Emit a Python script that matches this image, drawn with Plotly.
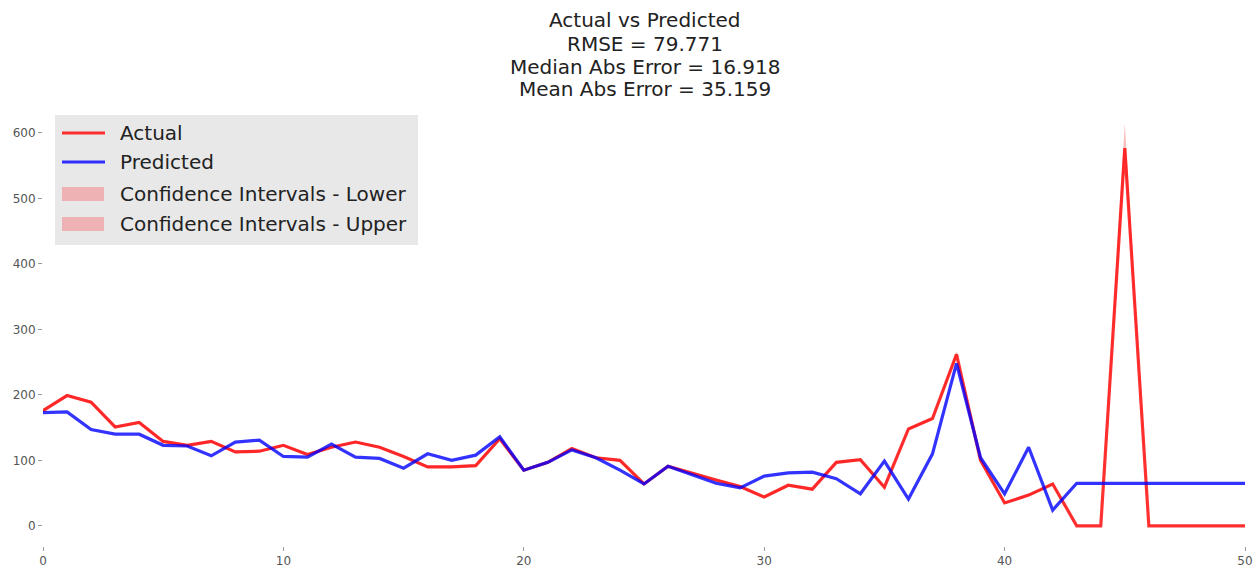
import plotly.graph_objects as go

# Time index of the evaluation window
steps = list(range(51))

# Observed values
actual = [176, 199, 189, 151, 158, 129, 123, 129, 113, 114,
          123, 109, 120, 128, 120, 106, 90, 90, 92, 133,
          85, 97, 118, 104, 100, 64, 91, 80, 70, 60,
          44, 62, 56, 97, 101, 59, 148, 164, 262, 100,
          35, 47, 64, 0, 0, 577, 0, 0, 0, 0, 0]

# Model predictions
predicted = [173, 174, 147, 140, 140, 123, 122, 107, 128, 131,
             106, 105, 125, 105, 103, 88, 110, 100, 108, 136,
             85, 97, 116, 104, 85, 64, 91, 78, 65, 58,
             76, 81, 82, 72, 49, 99, 41, 110, 248, 104,
             49, 120, 24, 65, 65, 65, 65, 65, 65, 65, 65]

# Confidence interval bounds around the observed series
ci_lower = [174, 197, 187, 149, 156, 127, 121, 127, 111, 112,
            121, 107, 118, 126, 118, 104, 88, 88, 90, 131,
            83, 95, 116, 102, 98, 62, 89, 78, 68, 58,
            42, 60, 54, 95, 99, 57, 146, 162, 258, 98,
            33, 45, 62, 0, 0, 560, 0, 0, 0, 0, 0]
ci_upper = [178, 201, 191, 153, 160, 131, 125, 131, 115, 116,
            125, 111, 122, 130, 122, 108, 92, 92, 94, 135,
            87, 99, 120, 106, 102, 66, 93, 82, 72, 62,
            46, 64, 58, 99, 103, 61, 150, 166, 266, 102,
            37, 49, 66, 1, 1, 615, 1, 1, 1, 1, 1]

title_lines = ["Actual vs Predicted", "RMSE = 79.771",
               "Median Abs Error = 16.918", "Mean Abs Error = 35.159"]
legend_labels = ["Actual", "Predicted",
                 "Confidence Intervals - Lower", "Confidence Intervals - Upper"]

RED = "rgba(255,0,0,0.8)"
BLUE = "rgba(0,0,255,0.8)"
PINK = "rgba(240,110,110,0.45)"
PATCH = "#eeb1b4"

W, H = 1256, 568
L, R, T, B = 43, 11, 103, 22
PW, PH = W - L - R, H - T - B


def px(xp):
    """Horizontal pixel -> paper coordinate."""
    return (xp - L) / PW


def py(yp):
    """Vertical pixel (from top) -> paper coordinate."""
    return (H - B - yp) / PH


fig = go.Figure()

# Lower band: fill from the actual series down to the lower bound
fig.add_trace(go.Scatter(x=steps, y=actual, mode="lines",
                         line=dict(width=0, color=RED),
                         showlegend=False, hoverinfo="skip"))
fig.add_trace(go.Scatter(x=steps, y=ci_lower, mode="lines", fill="tonexty",
                         fillcolor=PINK, line=dict(width=0),
                         name=legend_labels[2], showlegend=False))
# Upper band: fill from the actual series up to the upper bound
fig.add_trace(go.Scatter(x=steps, y=actual, mode="lines",
                         line=dict(width=0, color=RED),
                         showlegend=False, hoverinfo="skip"))
fig.add_trace(go.Scatter(x=steps, y=ci_upper, mode="lines", fill="tonexty",
                         fillcolor=PINK, line=dict(width=0),
                         name=legend_labels[3], showlegend=False))

fig.add_trace(go.Scatter(x=steps, y=actual, mode="lines", name=legend_labels[0],
                         line=dict(color=RED, width=3.2), showlegend=False))
fig.add_trace(go.Scatter(x=steps, y=predicted, mode="lines", name=legend_labels[1],
                         line=dict(color=BLUE, width=3.2), showlegend=False))

# Legend box drawn in paper space
shapes = [dict(type="rect", xref="paper", yref="paper",
               x0=px(55), x1=px(418), y0=py(245), y1=py(115),
               fillcolor="rgba(229,229,229,0.9)", line=dict(width=0), layer="above")]
annotations = []
row_y = [133, 162, 194, 224]
for i, (label, yc) in enumerate(zip(legend_labels, row_y)):
    if i == 0:
        shapes.append(dict(type="line", xref="paper", yref="paper",
                           x0=px(62), x1=px(105), y0=py(yc), y1=py(yc),
                           line=dict(color=RED, width=3.2), layer="above"))
    elif i == 1:
        shapes.append(dict(type="line", xref="paper", yref="paper",
                           x0=px(62), x1=px(105), y0=py(yc), y1=py(yc),
                           line=dict(color=BLUE, width=3.2), layer="above"))
    else:
        shapes.append(dict(type="rect", xref="paper", yref="paper",
                           x0=px(62), x1=px(104), y0=py(yc + 7), y1=py(yc - 7),
                           fillcolor=PATCH, line=dict(width=0), layer="above"))
    annotations.append(dict(text=label, xref="paper", yref="paper",
                            x=px(118), y=py(yc), xanchor="left", yanchor="middle",
                            showarrow=False,
                            font=dict(size=20, color="#222222")))

# Four-line title
for line, yc in zip(title_lines, [20, 44, 67, 89]):
    annotations.append(dict(text=line, xref="paper", yref="paper",
                            x=px(645), y=py(yc), xanchor="center", yanchor="middle",
                            showarrow=False,
                            font=dict(size=20, color="#222222")))

fig.update_layout(
    width=W, height=H,
    margin=dict(l=L, r=R, t=T, b=B),
    paper_bgcolor="white", plot_bgcolor="white",
    font=dict(family="DejaVu Sans", color="#222222"),
    shapes=shapes, annotations=annotations,
    showlegend=False,
)

fig.update_xaxes(range=[0, 50], tickvals=[0, 10, 20, 30, 40, 50],
                 showgrid=False, zeroline=False, showline=False,
                 ticks="outside", ticklen=4, tickcolor="#999999",
                 tickfont=dict(size=12, color="#555555"), automargin=False)
fig.update_yaxes(range=[-30.75, 645.75], tickvals=[0, 100, 200, 300, 400, 500, 600],
                 showgrid=False, zeroline=False, showline=False,
                 ticks="outside", ticklen=4, tickcolor="#999999",
                 tickfont=dict(size=12, color="#555555"), automargin=False)

fig.write_html("out.html")
